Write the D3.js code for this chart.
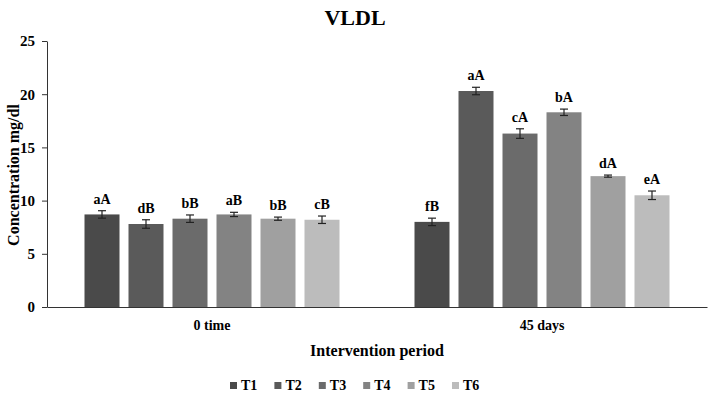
<!DOCTYPE html>
<html><head><meta charset="utf-8">
<script src="https://cdn.jsdelivr.net/npm/d3@7"></script>
<style>body{margin:0;background:#fff}svg{display:block}text{font-family:"Liberation Serif","Times New Roman",serif;font-weight:bold;fill:#000}</style>
</head><body><svg id="c" width="709" height="396"></svg>
<script>
const periods = ["0 time", "45 days"];
const treatments = ["T1","T2","T3","T4","T5","T6"];
const colors = ["#4a4a4a","#5a5a5a","#6b6b6b","#838383","#a0a0a0","#bcbcbc"];
const values0 = [8.7, 7.8, 8.3, 8.7, 8.3, 8.2];
const values45 = [8.0, 20.3, 16.3, 18.3, 12.3, 10.5];
const errors0 = [0.35, 0.4, 0.35, 0.2, 0.15, 0.35];
const errors45 = [0.35, 0.35, 0.45, 0.3, 0.1, 0.4];
const letters0 = ["aA","dB","bB","aB","bB","cB"];
const letters45 = ["fB","aA","cA","bA","dA","eA"];
const yTicks = [0,5,10,15,20,25];

const svg = d3.select("#c");
const m = {l:47, r:2};
const W = 709;
const x0 = d3.scaleBand().domain(periods).range([m.l, W - m.r]).paddingInner(0).paddingOuter(0);
const x1 = d3.scaleBand().domain(treatments).range([0, 255]).paddingInner(9/44).paddingOuter(0);
const y = d3.scaleLinear().domain([0,25]).range([307, 41]);

svg.append("text").attr("x", 355).attr("y", 25).attr("text-anchor","middle").attr("font-size", 22).text("VLDL");

const ya = svg.append("g").attr("transform", `translate(${m.l},0)`).call(d3.axisLeft(y).tickValues(yTicks).tickSize(5).tickSizeOuter(0));
ya.select(".domain").attr("stroke","#333");
ya.selectAll(".tick line").attr("stroke","#333");
ya.selectAll(".tick text").attr("font-size",15).attr("font-family","Liberation Serif").attr("font-weight","bold").attr("x",-12).attr("fill","#000");

const xa = svg.append("g").attr("transform", `translate(0,${y(0)})`).call(d3.axisBottom(x0).tickSize(0).tickSizeOuter(0));
xa.select(".domain").attr("stroke","#333");
xa.selectAll(".tick text").attr("font-size",14).attr("font-family","Liberation Serif").attr("font-weight","bold").attr("dy","1.45em").attr("fill","#000");

svg.append("text").attr("transform","translate(19,175) rotate(-90)").attr("text-anchor","middle").attr("font-size",16).text("Concentration mg/dl");
svg.append("text").attr("x", 377).attr("y", 356).attr("text-anchor","middle").attr("font-size",16).text("Intervention period");

const data = [
  {p: periods[0], v: values0, e: errors0, l: letters0},
  {p: periods[1], v: values45, e: errors45, l: letters45}
];
data.forEach(d => {
  const off = x0(d.p) + (x0.bandwidth() - 255)/2;
  const g = svg.append("g").attr("transform", `translate(${off},0)`);
  treatments.forEach((t,i) => {
    const bx = x1(t), bw = x1.bandwidth(), cx = bx + bw/2;
    g.append("rect").attr("x", bx).attr("y", y(d.v[i])).attr("width", bw).attr("height", y(0) - y(d.v[i])).attr("fill", colors[i]);
    const hi = y(d.v[i] + d.e[i]), lo = y(d.v[i] - d.e[i]);
    g.append("line").attr("x1",cx).attr("x2",cx).attr("y1",hi).attr("y2",lo).attr("stroke","#222").attr("stroke-width",1.2);
    g.append("line").attr("x1",cx-4).attr("x2",cx+4).attr("y1",hi).attr("y2",hi).attr("stroke","#222").attr("stroke-width",1.2);
    g.append("line").attr("x1",cx-4).attr("x2",cx+4).attr("y1",lo).attr("y2",lo).attr("stroke","#222").attr("stroke-width",1.2);
    g.append("text").attr("x", cx).attr("y", hi - 7).attr("text-anchor","middle").attr("font-size",14).text(d.l[i]);
  });
});

const lg = svg.append("g");
treatments.forEach((t,i) => {
  const lx = 230 + i*44.4;
  lg.append("rect").attr("x", lx).attr("y", 382).attr("width", 7).attr("height", 7).attr("fill", colors[i]);
  lg.append("text").attr("x", lx + 11).attr("y", 390).attr("font-size", 14).text(t);
});
</script></body></html>
